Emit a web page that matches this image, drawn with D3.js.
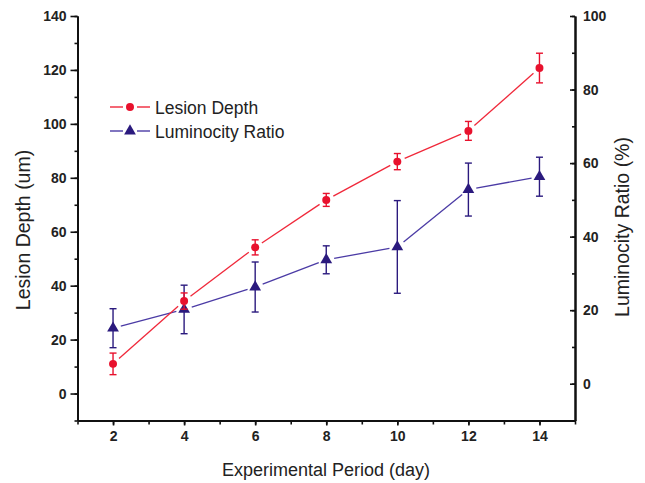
<!DOCTYPE html>
<html>
<head>
<meta charset="utf-8">
<script src="https://cdn.jsdelivr.net/npm/d3@7"></script>
<style>
  body { margin: 0; background: #fff; }
  text { font-family: "Liberation Sans", Arial, sans-serif; fill: #222; }
</style>
</head>
<body>
<script>
// data
var days = [2, 4, 6, 8, 10, 12, 14];
var lesionDepth = [11, 34.3, 54.2, 71.8, 86, 97.4, 120.7];
var lesionErr = [4, 3, 2.8, 2.4, 3, 3.5, 5.5];
var lumRatio = [15.1, 20.2, 26.3, 33.7, 37.2, 52.8, 56.3];
var lumErr = [5.3, 6.6, 6.8, 3.8, 12.6, 7.2, 5.3];
var xTicks = [2, 4, 6, 8, 10, 12, 14];
var leftTicks = [0, 20, 40, 60, 80, 100, 120, 140];
var rightTicks = [0, 20, 40, 60, 80, 100];

var W = 645, H = 483;
var red = "#e8112d", redLine = "#f0283a";
var navy = "#2b1a7e", navyLine = "#4b3ba5";

var svg = d3.select("body").append("svg").attr("width", W).attr("height", H);

var x = d3.scaleLinear().domain([1, 15]).range([77.5, 575]);
var yL = d3.scaleLinear().domain([-10, 140]).range([420.5, 16]);
var yR = d3.scaleLinear().domain([-10, 100]).range([420.5, 16]);

// minor ticks
var gx = svg.append("g").attr("transform", "translate(0,420.5)");
gx.call(d3.axisBottom(x).tickValues(d3.range(1, 16)).tickSize(4).tickSizeOuter(0).tickFormat(""));
gx.append("g").call(d3.axisBottom(x).tickValues(xTicks).tickSize(5).tickSizeOuter(0).tickPadding(6));

var gl = svg.append("g").attr("transform", "translate(77.5,0)");
gl.call(d3.axisLeft(yL).tickValues(d3.range(-10, 141, 10)).tickSize(3).tickSizeOuter(0).tickFormat(""));
gl.append("g").call(d3.axisLeft(yL).tickValues(leftTicks).tickSize(7).tickSizeOuter(0).tickPadding(4));

var gr = svg.append("g").attr("transform", "translate(575,0)");
gr.call(d3.axisRight(yR).tickValues(d3.range(-10, 101, 10)).tickSize(-3).tickSizeOuter(0).tickFormat(""));
gr.append("g").call(d3.axisRight(yR).tickValues(rightTicks).tickSize(-5).tickSizeOuter(0).tickPadding(8));

svg.selectAll(".domain").attr("stroke", "#111").attr("stroke-width", 2);
svg.selectAll(".tick line").attr("stroke", "#111").attr("stroke-width", 1.6);
svg.selectAll(".tick text").attr("font-size", 14).attr("font-weight", "bold")
  .attr("fill", "#2a2540").attr("font-family", "Liberation Sans, Arial, sans-serif");

// axis titles
svg.append("text").attr("x", 326).attr("y", 476).attr("text-anchor", "middle")
  .attr("font-size", 18).text("Experimental Period (day)");
svg.append("text").attr("transform", "translate(29.5,230) rotate(-90)").attr("text-anchor", "middle")
  .attr("font-size", 19.5).text("Lesion Depth (um)");
svg.append("text").attr("transform", "translate(629,227) rotate(-90)").attr("text-anchor", "middle")
  .attr("font-size", 19.5).text("Luminocity Ratio (%)");

// line segments with a gap at each marker
function gapSegments(vals, y, gap) {
  var segs = [];
  for (var i = 0; i < vals.length - 1; i++) {
    var x1 = x(days[i]), y1 = y(vals[i]), x2 = x(days[i + 1]), y2 = y(vals[i + 1]);
    var d = Math.hypot(x2 - x1, y2 - y1), ux = (x2 - x1) / d, uy = (y2 - y1) / d;
    segs.push([x1 + ux * gap, y1 + uy * gap, x2 - ux * gap, y2 - uy * gap]);
  }
  return segs;
}

function drawSeries(vals, errs, y, lineColor, color, shape) {
  var g = svg.append("g");
  g.selectAll("line.seg").data(gapSegments(vals, y, 8)).enter().append("line")
    .attr("x1", function (d) { return d[0]; }).attr("y1", function (d) { return d[1]; })
    .attr("x2", function (d) { return d[2]; }).attr("y2", function (d) { return d[3]; })
    .attr("stroke", lineColor).attr("stroke-width", 1.3);

  var pts = days.map(function (d, i) { return { x: d, v: vals[i], e: errs[i] }; });
  var eb = g.selectAll("g.err").data(pts).enter().append("g")
    .attr("stroke", color).attr("stroke-width", 1.4);
  eb.append("line")
    .attr("x1", function (d) { return x(d.x); }).attr("x2", function (d) { return x(d.x); })
    .attr("y1", function (d) { return y(d.v + d.e); }).attr("y2", function (d) { return y(d.v - d.e); });
  [1, -1].forEach(function (s) {
    eb.append("line")
      .attr("x1", function (d) { return x(d.x) - 3.5; }).attr("x2", function (d) { return x(d.x) + 3.5; })
      .attr("y1", function (d) { return y(d.v + s * d.e); }).attr("y2", function (d) { return y(d.v + s * d.e); });
  });

  g.selectAll("path.mk").data(pts).enter().append("path")
    .attr("transform", function (d) { return "translate(" + x(d.x) + "," + y(d.v) + ")"; })
    .attr("d", d3.symbol().type(shape).size(shape === d3.symbolCircle ? 50 : 60))
    .attr("fill", color);
}

drawSeries(lumRatio, lumErr, yR, navyLine, navy, d3.symbolTriangle);
drawSeries(lesionDepth, lesionErr, yL, redLine, red, d3.symbolCircle);

// legend
var legend = [
  { name: "Lesion Depth", line: redLine, color: red, shape: d3.symbolCircle, size: 50, y: 107 },
  { name: "Luminocity Ratio", line: navyLine, color: navy, shape: d3.symbolTriangle, size: 60, y: 131 }
];
var lg = svg.selectAll("g.legend").data(legend).enter().append("g")
  .attr("transform", function (d) { return "translate(0," + d.y + ")"; });
lg.append("line").attr("x1", 110).attr("x2", 123).attr("y1", 0).attr("y2", 0)
  .attr("stroke", function (d) { return d.line; }).attr("stroke-width", 1.4);
lg.append("line").attr("x1", 137).attr("x2", 150).attr("y1", 0).attr("y2", 0)
  .attr("stroke", function (d) { return d.line; }).attr("stroke-width", 1.4);
lg.append("path").attr("transform", "translate(130,0)")
  .attr("d", function (d) { return d3.symbol().type(d.shape).size(d.size)(); })
  .attr("fill", function (d) { return d.color; });
lg.append("text").attr("x", 155).attr("y", 6.5).attr("font-size", 17.5)
  .text(function (d) { return d.name; });
</script>
</body>
</html>
